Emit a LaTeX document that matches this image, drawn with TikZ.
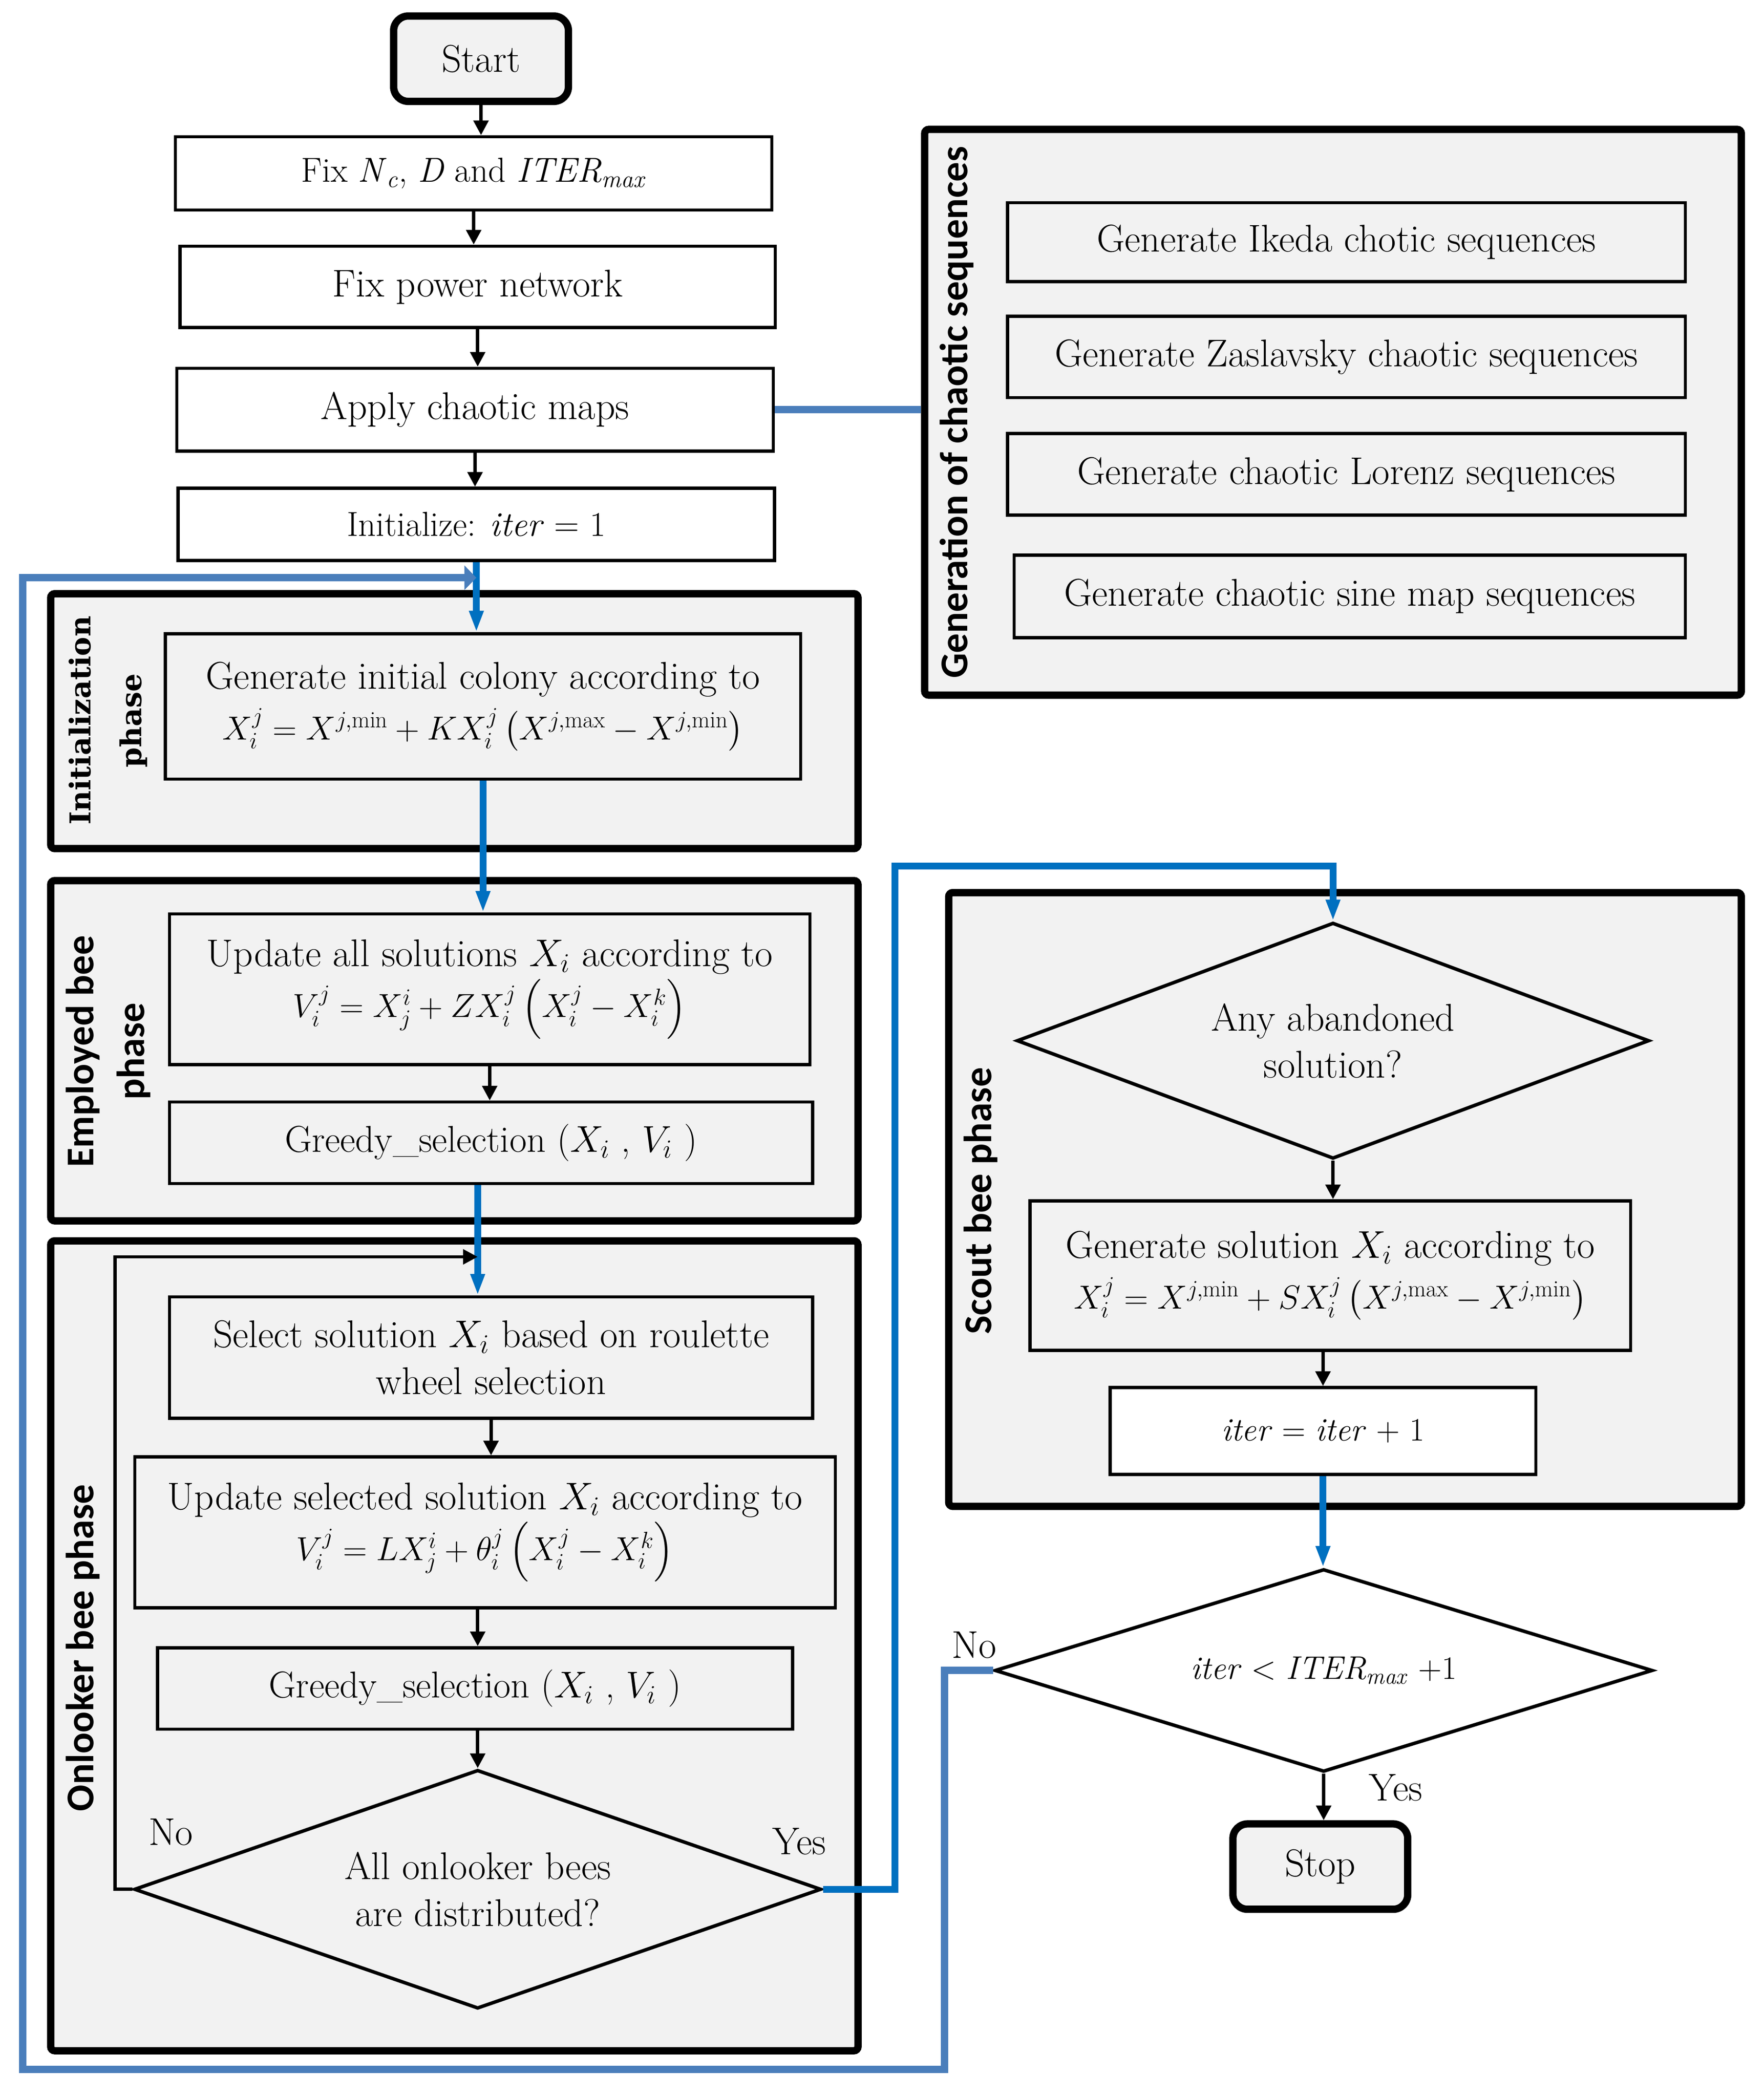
\RequirePackage{fix-cm}
\documentclass[tikz,border=0pt]{standalone}
\usepackage{amsmath}
\usepackage{fontspec}
\newfontfamily\labsans{Carlito}
\newfontfamily\labserif{DejaVu Serif}
\usetikzlibrary{arrows.meta,shapes.geometric,calc}
\definecolor{grayfill}{HTML}{F2F2F2}
\definecolor{dblue}{HTML}{0070C0}
\definecolor{lblue}{HTML}{4A7EBB}
\newcommand{\eqsz}{\fontsize{25}{30}\selectfont}
\begin{document}
\begin{tikzpicture}[x=1pt,y=-1pt,
  every node/.style={font=\fontsize{29}{35}\selectfont, inner sep=0pt},
  box/.style={draw, line width=2.4pt, fill=white, rectangle, align=center},
  gbox/.style={draw, line width=2.4pt, fill=grayfill, rectangle, align=center},
  grp/.style={draw, line width=5.5pt, fill=grayfill, rectangle, rounded corners=3pt},
  term/.style={draw, line width=5.5pt, fill=grayfill, rectangle, rounded corners=11pt, minimum width=131, minimum height=64},
  dec/.style={draw, line width=2.6pt, diamond, align=center},
  sanslab/.style={font=\labsans\bfseries\fontsize{29.5}{38}\selectfont, rotate=90, align=center},
  seriflab/.style={font=\labserif\bfseries\fontsize{21.5}{38}\selectfont, rotate=90, align=center},
  arr/.style={line width=2.5pt, -{Triangle[length=11pt,width=11pt]}},
  barr/.style={dblue, line width=5pt, -{Triangle[length=16pt,width=10pt]}},
  lbarr/.style={lblue, line width=5.5pt, -{Triangle[length=9pt,width=18pt]}},
  tlab/.style={font=\fontsize{29}{35}\selectfont},
  small/.style={font=\fontsize{26}{31}\selectfont},
  smaller/.style={font=\fontsize{24.5}{30}\selectfont}
]
\useasboundingbox (0,0) rectangle (1322,1571.7);

% ---------- top chain ----------
\node[term] (start) at (360.5,44) {Start};
\node[box, small, minimum width=447, minimum height=55] (fixn) at (355,130)
  {Fix \textit{N}\textsubscript{\textit{c}}, \textit{D} and \textit{ITER}\textsubscript{\textit{max}}};
\node[box, minimum width=446, minimum height=61] (power) at (358,215) {Fix power network};
\node[box, minimum width=447, minimum height=62] (apply) at (356,307) {Apply chaotic maps};
\node[box, small, minimum width=447, minimum height=54] (init) at (357,393) {Initialize: \textit{iter} = 1};

% ---------- chaotic sequences group ----------
\node[grp, minimum width=612, minimum height=424] (gengrp) at (999,309) {};
\node[sanslab] (genlab) at (717,309) {Generation of chaotic sequences};
\node[gbox, minimum width=508, minimum height=59] (ik) at (1009,181.5) {Generate Ikeda chotic sequences};
\node[gbox, minimum width=508, minimum height=61] (za) at (1009,267.5) {Generate Zaslavsky chaotic sequences};
\node[gbox, minimum width=508, minimum height=61] (lo) at (1009,355.5) {Generate chaotic Lorenz sequences};
\node[gbox, minimum width=503, minimum height=62] (si) at (1011.5,447) {Generate chaotic sine map sequences};

% ---------- initialization phase ----------
\node[grp, minimum width=605, minimum height=191] (initgrp) at (340.5,540.5) {};
\node[seriflab] (initlab) at (81,540) {Initialization\\phase};
\node[gbox, minimum width=476, minimum height=109] (initbox) at (362,529.5)
  {Generate initial colony according to\\[3pt]
   {\eqsz$X_i^j = X^{j,\min} + KX_i^j\left(X^{j,\max} - X^{j,\min}\right)$}};

% ---------- employed bee phase ----------
\node[grp, minimum width=605, minimum height=255] (empgrp) at (340.5,787.5) {};
\node[sanslab] (emplab) at (81,788) {Employed bee\\phase};
\node[gbox, minimum width=480, minimum height=113] (upd) at (367,741.5)
  {Update all solutions $X_i$ according to\\[3pt]
   {\eqsz$V_i^j = X_j^i + ZX_i^j\left(X_i^j - X_i^k\right)$}};
\node[gbox, font=\fontsize{28}{34}\selectfont, minimum width=482, minimum height=61] (gr1) at (368,856.5)
  {Greedy\_selection ($X_i$ , $V_i$ )};

% ---------- onlooker bee phase ----------
\node[grp, minimum width=605, minimum height=607] (onlgrp) at (340.5,1233.5) {};
\node[sanslab] (onllab) at (62,1235) {Onlooker bee phase};
\node[gbox, minimum width=482, minimum height=91] (sel) at (368,1017.5)
  {Select solution $X_i$ based on roulette\\wheel selection};
\node[gbox, minimum width=525, minimum height=113] (upd2) at (363.5,1148.5)
  {Update selected solution $X_i$ according to\\[3pt]
   {\eqsz$V_i^j = LX_j^i + \theta_i^j\left(X_i^j - X_i^k\right)$}};
\node[gbox, font=\fontsize{28}{34}\selectfont, minimum width=476, minimum height=61] (gr2) at (356,1265.5)
  {Greedy\_selection ($X_i$ , $V_i$ )};
\node[dec, fill=grayfill, minimum width=515, minimum height=179, aspect=2.88] (dia1) at (358,1416)
  {All onlooker bees\\are distributed?};

% ---------- scout bee phase ----------
\node[grp, minimum width=594, minimum height=460] (scgrp) at (1008,899) {};
\node[sanslab] (sclab) at (735,900) {Scout bee phase};
\node[dec, fill=grayfill, minimum width=474, minimum height=177, aspect=2.68] (dia2) at (999,780)
  {Any abandoned\\solution?};
\node[gbox, minimum width=450, minimum height=112] (gen) at (997,956)
  {Generate solution $X_i$ according to\\[3pt]
   {\eqsz$X_i^j = X^{j,\min} + SX_i^j\left(X^{j,\max} - X^{j,\min}\right)$}};
\node[box, smaller, fill=white, minimum width=319, minimum height=65] (itb) at (991.5,1072.5)
  {\textit{iter} = \textit{iter} + 1};

% ---------- termination ----------
\node[dec, smaller, fill=white, minimum width=493, minimum height=152, aspect=3.24] (dia3) at (992,1252)
  {\textit{iter} $<$ \textit{ITER}\textsubscript{\textit{max}} +1};
\node[term] (stop) at (989.5,1399) {Stop};

% ---------- labels ----------
\node[tlab] (no1) at (730,1233) {No};
\node[tlab] (yes1) at (1046,1340) {Yes};
\node[tlab] (no2) at (128,1373) {No};
\node[tlab] (yes2) at (599,1380) {Yes};

% ---------- coordinates ----------
\coordinate (j0) at (init.south |- 0,433);
\coordinate (c1) at (708,1551);
\coordinate (c2) at (17,433);
\coordinate (j1) at (dia1.north |- 0,942);
\coordinate (jtop) at (dia2.north |- 0,649);

% ---------- connectors ----------
\draw[arr] (start.south) -- (start.south |- fixn.north);
\draw[arr] (fixn.south) -- (fixn.south |- power.north);
\draw[arr] (power.south) -- (power.south |- apply.north);
\draw[arr] (apply.south) -- (apply.south |- init.north);
\draw[lblue, line width=5.5pt] (apply.east) -- (apply.east -| gengrp.west);

\draw[barr] (init.south) -- (init.south |- initbox.north);
\draw[barr] (initbox.south) -- (initbox.south |- upd.north);
\draw[arr] (upd.south) -- (upd.south |- gr1.north);
\draw[barr] (dia1.north |- gr1.south) -- (dia1.north |- sel.north);
\draw[arr] (sel.south) -- (sel.south |- upd2.north);
\draw[arr] (dia1.north |- upd2.south) -- (dia1.north |- gr2.north);
\draw[arr] (dia1.north |- gr2.south) -- (dia1.north);

\draw[arr] (dia1.west) -- ++(-13,0) |- (j1);
\draw[barr] (dia1.east) -- ++(54,0) |- (jtop) -- (dia2.north);

\draw[arr] (dia2.south) -- (dia2.south |- gen.north);
\draw[arr] (itb.north |- gen.south) -- (itb.north);
\draw[barr] (itb.south) -- (itb.south |- dia3.north);
\draw[arr] (dia3.south) -- (dia3.south |- stop.north);

\draw[lbarr] (dia3.west) -| (c1) -| (c2) -- (j0);
\end{tikzpicture}
\end{document}
